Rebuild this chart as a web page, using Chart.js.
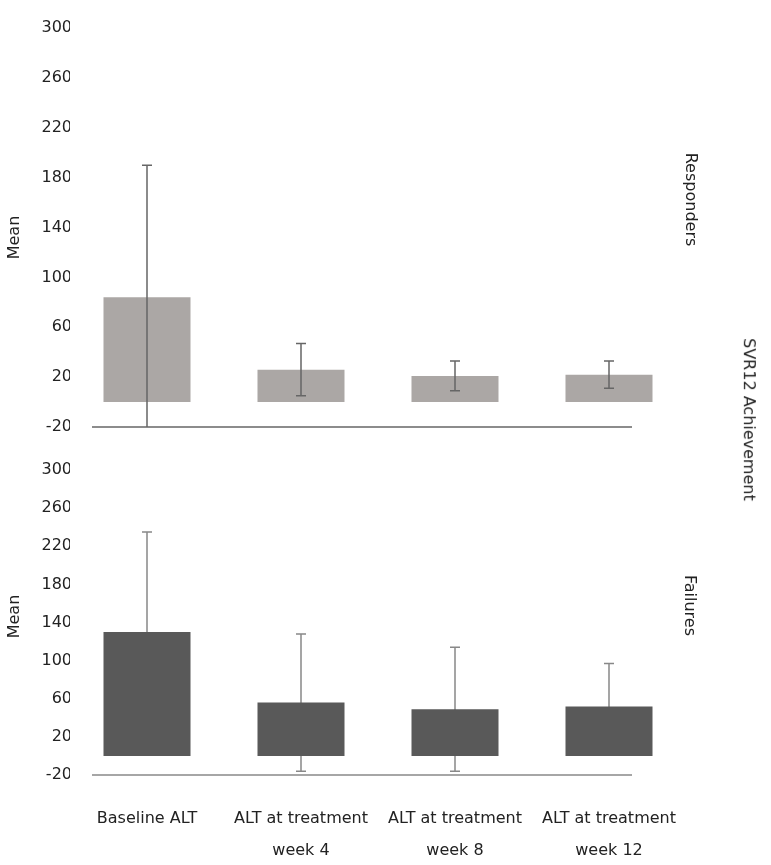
<!DOCTYPE html>
<html><head><meta charset="utf-8">
<script src="https://cdn.jsdelivr.net/npm/chart.js@4/dist/chart.umd.min.js"></script>
<style>
body{margin:0;width:771px;height:865px;background:#fff;position:relative;overflow:hidden;font-family:'DejaVu Sans',sans-serif;color:#222}
.c{position:absolute;left:0;width:771px}
.r{position:absolute;font-size:16px;white-space:nowrap;transform-origin:center center}
</style></head><body>
<div class="c" style="top:0;height:440px"><canvas id="top"></canvas></div>
<div class="c" style="top:442px;height:423px"><canvas id="bot"></canvas></div>
<div class="r" style="left:-8px;top:228px;transform:rotate(-90deg)">Mean</div>
<div class="r" style="left:-8px;top:607px;transform:rotate(-90deg)">Mean</div>
<div class="r" style="left:645px;top:190px;transform:rotate(90deg)">Responders</div>
<div class="r" style="left:668px;top:410px;transform:rotate(90deg)">SVR12 Achievement</div>
<div class="r" style="left:660px;top:596px;transform:rotate(90deg)">Failures</div>
<script>
const categories=[["Baseline ALT"],["ALT at treatment","week 4"],["ALT at treatment","week 8"],["ALT at treatment","week 12"]];
const respondersMean=[84,26,21,22];
const respondersErr=[106,21,12,11];
const failuresMean=[130,56,49,52];
const failuresErr=[105,72,65,45];
const yTicks=[-20,20,60,100,140,180,220,260,300];
const FONT={family:"'DejaVu Sans',sans-serif",size:16};

function errPlugin(errs,color,before){const draw=(ch)=>{
  const c=ch.ctx,y=ch.scales.y,x=ch.scales.x,vals=ch.data.datasets[0].data;
  c.save();c.strokeStyle=color;c.lineWidth=1.5;
  c.beginPath();c.moveTo(92,y.getPixelForValue(-20));c.lineTo(632,y.getPixelForValue(-20));c.stroke();
  vals.forEach((v,i)=>{const px=x.getPixelForValue(i);
    const hi=y.getPixelForValue(v+errs[i]);const lo=y.getPixelForValue(Math.max(v-errs[i],-20));
    c.beginPath();c.moveTo(px,hi);c.lineTo(px,lo);
    c.moveTo(px-5,hi);c.lineTo(px+5,hi);
    if(v-errs[i]>-20){c.moveTo(px-5,lo);c.lineTo(px+5,lo);}
    c.stroke();});
  c.restore();};
  return before?{id:'err',beforeDatasetsDraw:draw}:{id:'err',afterDatasetsDraw:draw};}

function make(id,vals,errs,col,ecol,showX,pad,before){
 new Chart(document.getElementById(id),{type:'bar',
  data:{labels:categories,datasets:[{data:vals,backgroundColor:col,barPercentage:0.565,categoryPercentage:1}]},
  options:{responsive:true,maintainAspectRatio:false,animation:false,
   layout:{padding:pad},
   plugins:{legend:{display:false},tooltip:{enabled:false}},
   scales:{
    x:{display:showX,grid:{display:false},border:{display:false},
       ticks:{color:'#222',font:{...FONT,lineHeight:2},maxRotation:0,autoSkip:false,padding:20},
       afterFit(s){if(showX)s.height=90;}},
    y:{min:-20,max:300,grid:{display:false},border:{display:false},
       afterBuildTicks(s){s.ticks=yTicks.map(v=>({value:v}));},
       ticks:{color:'#222',font:FONT,padding:-10},
       afterFit(s){s.width=70;}}}},
  plugins:[errPlugin(errs,ecol,before)]});
}
make('top',respondersMean,respondersErr,'#aba7a5','#666',false,{top:28,bottom:13,left:0,right:85},false);
make('bot',failuresMean,failuresErr,'#595959','#888',true,{top:28,bottom:0,left:0,right:85},true);
</script></body></html>
